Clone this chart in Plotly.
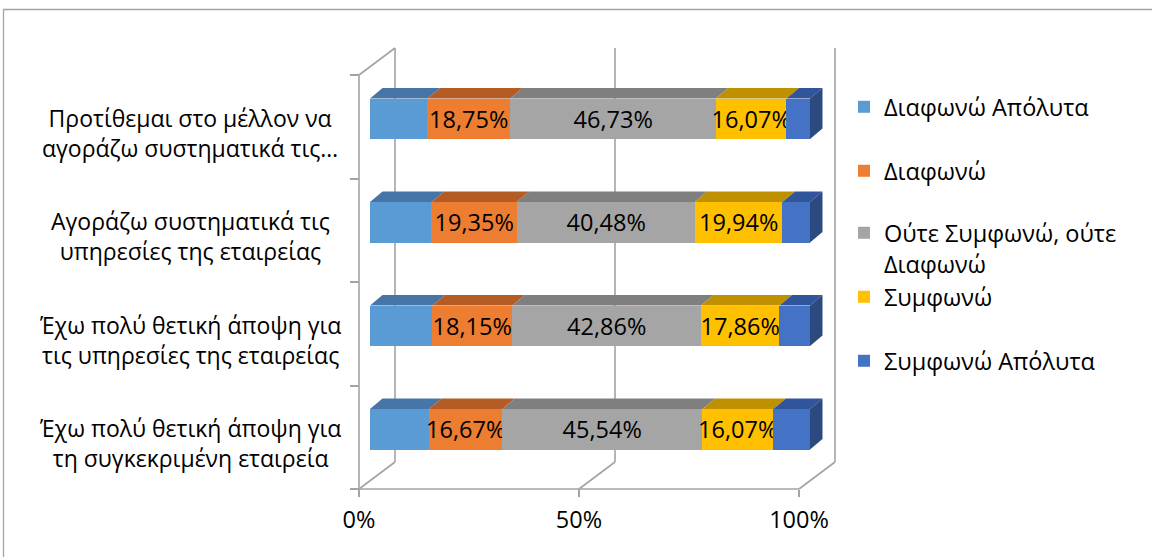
import plotly.graph_objects as go

# ---- data -------------------------------------------------------------
# statements, bottom to top
statements = [
    "Έχω πολύ θετική άποψη για<br>τη συγκεκριμένη εταιρεία",
    "Έχω πολύ θετική άποψη για<br>τις υπηρεσίες της εταιρείας",
    "Αγοράζω συστηματικά τις<br>υπηρεσίες της εταιρείας",
    "Προτίθεμαι στο μέλλον να<br>αγοράζω συστηματικά τις…",
]
series_names = [
    "Διαφωνώ Απόλυτα",
    "Διαφωνώ",
    "Ούτε Συμφωνώ, ούτε<br>Διαφωνώ",
    "Συμφωνώ",
    "Συμφωνώ Απόλυτα",
]
strongly_disagree = [13.39, 14.20, 13.99, 13.10]
disagree = [16.67, 18.15, 19.35, 18.75]
neutral = [45.54, 42.86, 40.48, 46.73]
agree = [16.07, 17.86, 19.94, 16.07]
strongly_agree = [8.33, 6.93, 6.24, 5.35]
series_values = [strongly_disagree, disagree, neutral, agree, strongly_agree]
show_labels = [False, True, True, True, False]

x_tick_values = [0, 50, 100]
x_tick_labels = ["0%", "50%", "100%"]

# ---- styling ----------------------------------------------------------
front_colors = ["#5B9BD5", "#ED7D31", "#A5A5A5", "#FFC000", "#4472C4"]
top_colors = ["#4676A8", "#B55B24", "#7F7F7F", "#BF9000", "#30559A"]
side_color = "#2C4A80"
frame_color = "#A3A3A3"
FONT = "Open Sans"
FS = 23.5
FS_CAT = 23

W, H = 1152, 557
PX_X = 4.40        # pixels per percent
PX_Y = 103.5       # pixels per category
FRONT_X0 = 359     # 0% on the front floor edge
FRONT_Y0 = 489     # floor front edge
WALL_DX, WALL_DY = 36, 27      # depth of the 3-D box (px)
BAR_DX, BAR_DY = 11, 8         # bars sit inside the box
FACE_DX, FACE_DY = 12.5, 10.5  # thickness of the bars
BAR_W = 0.39

X_LO, X_HI = -2, 112
Y_LO, Y_HI = -0.6, 3.9


def px_to_fx(px):
    return px / W


def py_to_fy(py):
    return 1 - py / H


x_dom = [px_to_fx(FRONT_X0 + X_LO * PX_X), px_to_fx(FRONT_X0 + X_HI * PX_X)]
y_dom = [py_to_fy(FRONT_Y0 - (Y_LO + 0.5) * PX_Y), py_to_fy(FRONT_Y0 - (Y_HI + 0.5) * PX_Y)]
# the bar axes share the domain above; their ranges are shifted to push bars into the box
bx = BAR_DX / PX_X
by = BAR_DY / PX_Y

fig = go.Figure()

positions = list(range(len(statements)))
legend_ids = ["legend", "legend2", "legend3", "legend4", "legend5"]

# front faces of the stacked bars
for i, (name, vals) in enumerate(zip(series_names, series_values)):
    text = [f"{v:.2f}".replace(".", ",") + "%" for v in vals] if show_labels[i] else None
    fig.add_trace(go.Bar(
        x=vals, y=positions, orientation="h", name=name, width=BAR_W,
        marker=dict(color=front_colors[i], line=dict(width=0)),
        text=text, textposition="inside", insidetextanchor="middle",
        textangle=0, constraintext="none",
        textfont=dict(family=FONT, size=FS, color="black"),
        xaxis="x2", yaxis="y2", legend=legend_ids[i], hoverinfo="skip",
    ))

# top faces (and end caps) giving the bars their depth
fdx = FACE_DX / PX_X
fdy = FACE_DY / PX_Y
starts = [0.0] * len(statements)
for i, vals in enumerate(series_values):
    xs, ys = [], []
    for k, v in enumerate(vals):
        x0, x1 = starts[k], starts[k] + v
        yt = positions[k] + BAR_W / 2
        xs += [x0, x1, x1 + fdx, x0 + fdx, x0, None]
        ys += [yt, yt, yt + fdy, yt + fdy, yt, None]
        starts[k] = x1
    fig.add_trace(go.Scatter(
        x=xs, y=ys, mode="lines", fill="toself", fillcolor=top_colors[i],
        line=dict(width=0), xaxis="x2", yaxis="y2",
        showlegend=False, hoverinfo="skip",
    ))
xs, ys = [], []
for k, total in enumerate(starts):
    yb = positions[k] - BAR_W / 2
    yt = positions[k] + BAR_W / 2
    xs += [total, total + fdx, total + fdx, total, total, None]
    ys += [yb, yb + fdy, yt + fdy, yt, yb, None]
fig.add_trace(go.Scatter(
    x=xs, y=ys, mode="lines", fill="toself", fillcolor=side_color,
    line=dict(width=0), xaxis="x2", yaxis="y2",
    showlegend=False, hoverinfo="skip",
))

# ---- 3-D box: walls and floor ----------------------------------------
wdx = WALL_DX / PX_X
wdy = WALL_DY / PX_Y
y_bot, y_top = -0.5, len(statements) - 0.5
line = dict(color=frame_color, width=1.6)
box = [
    (0, y_bot, 0, y_top),                      # left wall, front edge
    (wdx, y_bot + wdy, wdx, y_top + wdy),      # left wall, back edge
    (0, y_top, wdx, y_top + wdy),              # left wall, top edge
    (0, y_bot, 100, y_bot),                    # floor, front edge
]
for xv in x_tick_values:
    box.append((xv, y_bot, xv + wdx, y_bot + wdy))                    # floor depth line
    if xv > 0:
        box.append((xv + wdx, y_bot + wdy, xv + wdx, y_top + wdy))    # back-wall gridline
shapes = [dict(type="line", xref="x", yref="y", x0=a, y0=b, x1=c, y1=d,
               line=line, layer="below") for a, b, c, d in box]

# outer chart border
shapes.append(dict(type="rect", xref="paper", yref="paper",
                   x0=px_to_fx(3.5), y0=py_to_fy(570), x1=px_to_fx(1165), y1=py_to_fy(9.5),
                   line=dict(color=frame_color, width=1.3), layer="below"))

# category labels
annotations = [dict(text=s, xref="paper", yref="y", x=px_to_fx(190), y=p - 0.06,
                    xanchor="center", yanchor="middle", align="center", showarrow=False,
                    font=dict(family=FONT, size=FS_CAT, color="black"))
               for s, p in zip(statements, positions)]

# legend placement (one legend per series)
legend_tops = [85, 149, 211, 275, 339]
legends = {}
for lid, top in zip(legend_ids, legend_tops):
    legends[lid] = dict(
        x=px_to_fx(844), y=py_to_fy(top), xanchor="left", yanchor="top",
        font=dict(family=FONT, size=FS, color="black"), valign="top",
        bgcolor="rgba(0,0,0,0)", borderwidth=0, itemclick=False,
    )

fig.update_layout(
    width=W, height=H, margin=dict(l=0, r=0, t=0, b=0, autoexpand=False),
    paper_bgcolor="white", plot_bgcolor="rgba(0,0,0,0)",
    barmode="stack", bargap=0,
    font=dict(family=FONT, size=FS, color="black"),
    shapes=shapes, annotations=annotations,
    xaxis=dict(range=[X_LO, X_HI], domain=x_dom, anchor="free", position=py_to_fy(FRONT_Y0),
               tickvals=x_tick_values, ticktext=x_tick_labels,
               ticks="outside", ticklen=7, tickwidth=1.6, tickcolor=frame_color,
               ticklabelstandoff=3,
               showgrid=False, zeroline=False, showline=False,
               tickfont=dict(family=FONT, size=FS, color="black")),
    yaxis=dict(range=[Y_LO, Y_HI], domain=y_dom, anchor="free", position=px_to_fx(FRONT_X0),
               tickvals=[p - 0.5 for p in positions] + [y_top],
               ticks="outside", ticklen=9, tickwidth=1.6, tickcolor=frame_color,
               showticklabels=False, showgrid=False, zeroline=False, showline=False),
    xaxis2=dict(range=[X_LO - bx, X_HI - bx], anchor="y2", overlaying="x", visible=False),
    yaxis2=dict(range=[Y_LO - by, Y_HI - by], anchor="x2", overlaying="y", visible=False),
    **legends,
)

fig.write_html("out.html")
